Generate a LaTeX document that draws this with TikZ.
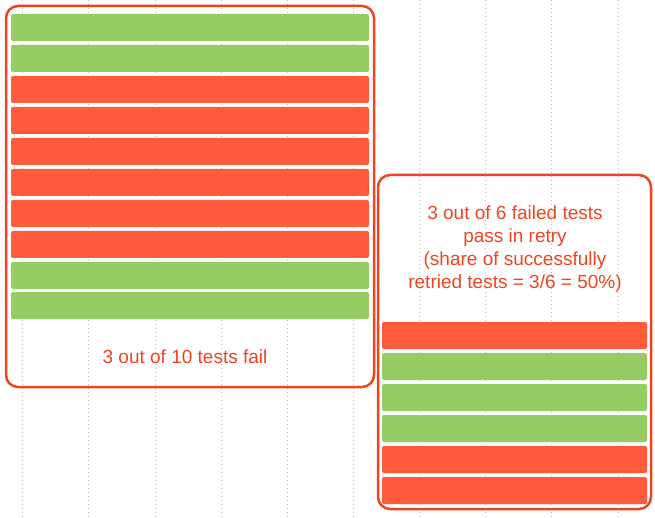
\documentclass[tikz,border=0pt]{standalone}
\usepackage{fontspec}
\setmainfont{Liberation Sans}
\begin{document}
\definecolor{pass}{HTML}{96CC64}
\definecolor{fail}{HTML}{FF5B3C}
\definecolor{frame}{HTML}{EE4420}
\definecolor{grid}{HTML}{BBBBBB}
\begin{tikzpicture}[x=1pt,y=-1pt,
  bar/.style={rounded corners=2pt},
  box/.style={draw=frame,line width=2.5pt,rounded corners=12pt},
  lbl/.style={text=frame,font=\fontsize{19}{23}\selectfont,align=center}]
\useasboundingbox (0,0) rectangle (655,518);
\foreach \x in {22,88.5,155,221,287,353,419.5,485.5,551.5,618}
  \draw[grid,line width=0.8pt,dash pattern=on 1pt off 3pt] (\x,0) -- (\x,518);
% left
\foreach \y/\c in {14/pass,45/pass,76/fail,107/fail,138/fail,169/fail,200/fail,231/fail,262/pass,292/pass}
  \fill[\c,bar] (11,\y) rectangle (369,\y+27);
\draw[box] (6,6) rectangle (374,387);
\node[lbl] (l) at (185,357) {3 out of 10 tests fail};
% right
\foreach \y/\c in {322/fail,353/pass,384/pass,415/pass,446/fail,477/fail}
  \fill[\c,bar] (382,\y) rectangle (647,\y+27);
\draw[box] (378,175) rectangle (651,509);
\node[lbl] (r) at (515,249) {3 out of 6 failed tests\\pass in retry\\(share of successfully\\retried tests = 3/6 = 50\%)};
\end{tikzpicture}
\end{document}
